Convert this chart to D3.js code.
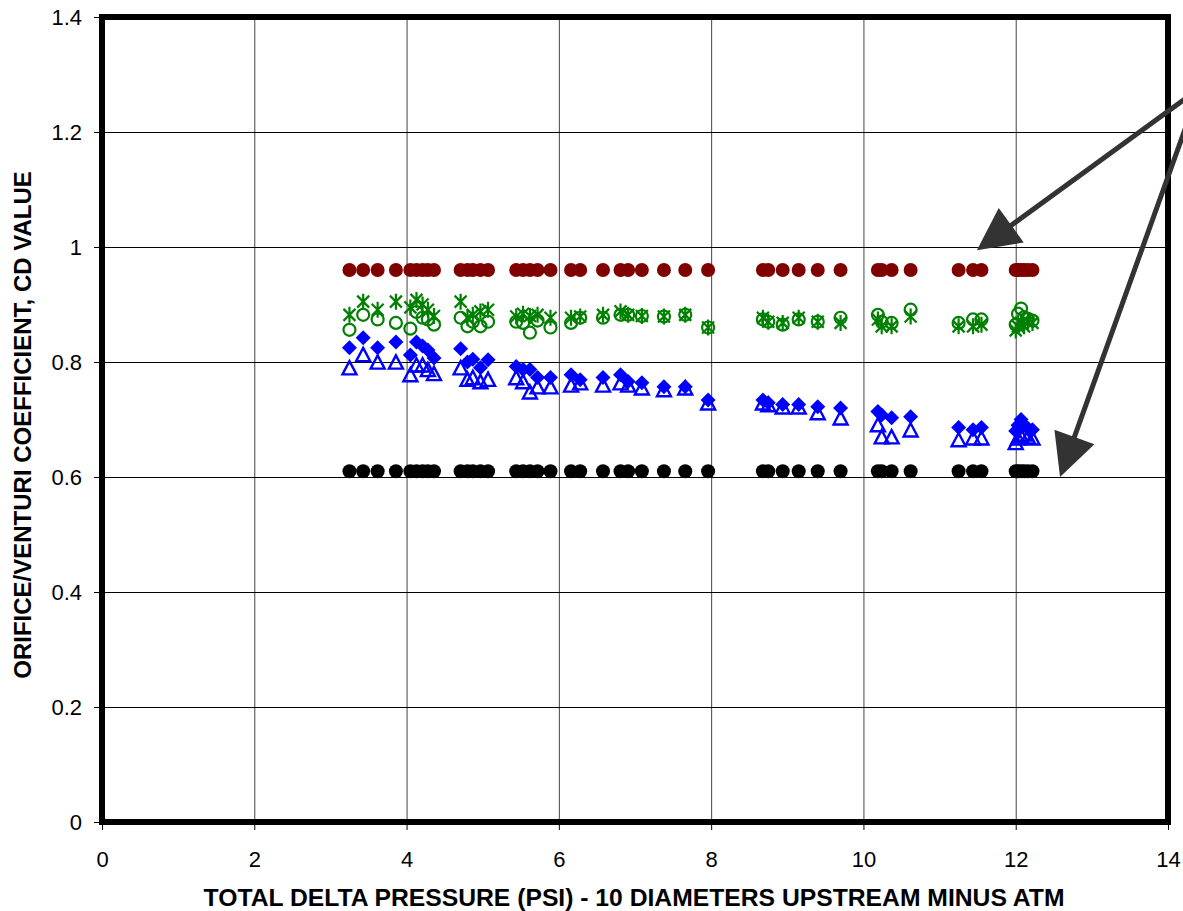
<!DOCTYPE html>
<html>
<head>
<meta charset="utf-8">
<script src="https://cdn.jsdelivr.net/npm/d3@7"></script>
<style>
  body { margin: 0; background: #fff; }
  svg { display: block; font-family: "Liberation Sans", Arial, sans-serif; }
</style>
</head>
<body>
<div id="chart"></div>
<script>
// ------------------------------------------------------------
// Orifice / venturi Cd vs total delta pressure
// ------------------------------------------------------------

// shared x column (psi)
const pressure = [
  3.25, 3.43, 3.62, 3.86, 4.05, 4.13, 4.21, 4.28, 4.36,
  4.71, 4.80, 4.87, 4.97, 5.07,
  5.44, 5.53, 5.62, 5.72, 5.89, 6.16, 6.28, 6.58, 6.81, 6.91, 7.09, 7.38, 7.66, 7.96,
  8.68, 8.75, 8.94, 9.15, 9.40, 9.70,
  10.19, 10.24, 10.37, 10.62,
  11.25, 11.44, 11.55,
  12.00, 12.03, 12.07, 12.11, 12.16, 12.22
];

const cdUpper = pressure.map(() => 0.96);   // dark red reference row
const cdLower = pressure.map(() => 0.61);   // black reference row

const cdCircle = [
  0.856, 0.882, 0.874, 0.868, 0.858, 0.887, 0.877, 0.874, 0.865,
  0.877, 0.862, 0.870, 0.862, 0.870,
  0.870, 0.868, 0.851, 0.872, 0.860, 0.868, 0.877, 0.877, 0.882, 0.882, 0.880, 0.879, 0.882, 0.860,
  0.874, 0.870, 0.865, 0.874, 0.870, 0.877,
  0.882, 0.870, 0.868, 0.891,
  0.868, 0.874, 0.874,
  0.865, 0.884, 0.893, 0.878, 0.875, 0.872
];

const cdStar = [
  0.882, 0.905, 0.891, 0.905, 0.895, 0.908, 0.900, 0.891, 0.880,
  0.905, 0.877, 0.882, 0.888, 0.891,
  0.879, 0.884, 0.880, 0.882, 0.877, 0.877, 0.879, 0.882, 0.888, 0.882, 0.880, 0.879, 0.882, 0.860,
  0.877, 0.870, 0.868, 0.877, 0.870, 0.868,
  0.874, 0.862, 0.862, 0.879,
  0.862, 0.862, 0.865,
  0.855, 0.862, 0.868, 0.862, 0.870, 0.868
];

const cdDiamond = [
  0.825, 0.842, 0.825, 0.835, 0.812, 0.835, 0.828, 0.821, 0.807,
  0.823, 0.800, 0.805, 0.790, 0.804,
  0.792, 0.787, 0.787, 0.773, 0.773, 0.778, 0.769, 0.773, 0.778, 0.766, 0.764, 0.757, 0.757, 0.734,
  0.734, 0.729, 0.726, 0.726, 0.722, 0.720,
  0.714, 0.708, 0.703, 0.705,
  0.686, 0.682, 0.686,
  0.680, 0.690, 0.700, 0.690, 0.685, 0.682
];

const cdTriangle = [
  0.790, 0.813, 0.800, 0.800, 0.778, 0.795, 0.795, 0.787, 0.780,
  0.790, 0.770, 0.773, 0.766, 0.770,
  0.773, 0.766, 0.748, 0.757, 0.757, 0.760, 0.764, 0.760, 0.764, 0.760, 0.755, 0.752, 0.755, 0.729,
  0.729, 0.726, 0.722, 0.722, 0.712, 0.703,
  0.691, 0.670, 0.670, 0.682,
  0.665, 0.668, 0.668,
  0.660, 0.668, 0.672, 0.675, 0.670, 0.668
];

const xTicks = [0, 2, 4, 6, 8, 10, 12, 14];
const yTicks = [0, 0.2, 0.4, 0.6, 0.8, 1, 1.2, 1.4];

const xTitle = "TOTAL DELTA PRESSURE (PSI) - 10 DIAMETERS UPSTREAM MINUS ATM";
const yTitle = "ORIFICE/VENTURI COEFFICIENT, CD VALUE";

// annotation arrows (data units, tails run off the page)
const arrows = [
  { from: [14.3, 1.265], to: [11.58, 1.003] },
  { from: [14.36, 1.255], to: [12.62, 0.614] }
];

// ------------------------------------------------------------
const width = 1183, height = 911;
const margin = { left: 102, right: 15, top: 17, bottom: 89 };

const svg = d3.select("#chart").append("svg")
  .attr("width", width)
  .attr("height", height);

const x = d3.scaleLinear().domain([0, 14]).range([margin.left, width - margin.right]);
const y = d3.scaleLinear().domain([0, 1.4]).range([height - margin.bottom, margin.top]);

const innerW = x(14) - x(0);
const innerH = y(0) - y(1.4);

// gridlines
svg.append("g")
  .attr("transform", `translate(0,${y(0)})`)
  .call(d3.axisBottom(x).tickValues(xTicks.slice(1, -1)).tickSize(-innerH).tickFormat(""))
  .call(g => g.select(".domain").remove())
  .call(g => g.selectAll("line").attr("stroke", "#444").attr("stroke-width", 1));

svg.append("g")
  .attr("transform", `translate(${x(0)},0)`)
  .call(d3.axisLeft(y).tickValues(yTicks.slice(1, -1)).tickSize(-innerW).tickFormat(""))
  .call(g => g.select(".domain").remove())
  .call(g => g.selectAll("line").attr("stroke", "#000").attr("stroke-width", 1));

// axes
const fmt = d3.format("~g");

svg.append("g")
  .attr("transform", `translate(0,${y(0)})`)
  .call(d3.axisBottom(x).tickValues(xTicks).tickSize(8).tickPadding(21).tickFormat(fmt))
  .call(g => g.select(".domain").remove())
  .call(g => g.selectAll("line").attr("stroke", "#000"))
  .call(g => g.selectAll("text").attr("font-size", 22).attr("fill", "#000")
    .attr("font-family", "Liberation Sans, Arial, sans-serif"));

svg.append("g")
  .attr("transform", `translate(${x(0)},0)`)
  .call(d3.axisLeft(y).tickValues(yTicks).tickSize(8).tickPadding(12).tickFormat(fmt))
  .call(g => g.select(".domain").remove())
  .call(g => g.selectAll("line").attr("stroke", "#000"))
  .call(g => g.selectAll("text").attr("font-size", 22).attr("fill", "#000")
    .attr("font-family", "Liberation Sans, Arial, sans-serif"));

// titles
svg.append("text")
  .attr("x", 634)
  .attr("y", 906)
  .attr("text-anchor", "middle")
  .attr("font-size", 24.7)
  .attr("font-weight", "bold")
  .text(xTitle);

svg.append("text")
  .attr("transform", `translate(31,425) rotate(-90)`)
  .attr("text-anchor", "middle")
  .attr("font-size", 24)
  .attr("font-weight", "bold")
  .text(yTitle);

// marker shapes
function diamondPath(s) {
  return `M0,${-s}L${s},0L0,${s}L${-s},0Z`;
}
function trianglePath(s) {
  const h = s * 0.95;
  return `M0,${-h}L${s},${h}L${-s},${h}Z`;
}
function starPath(s) {
  const d = s * 0.75;
  return `M${-d},${-d}L${d},${d}M${d},${-d}L${-d},${d}M0,${-s}L0,${s}`;
}

const plot = svg.append("g");

function drawSeries(vals, opts) {
  const pts = pressure.map((p, i) => [p, vals[i]]);
  if (opts.shape === "circle") {
    plot.append("g").selectAll("circle")
      .data(pts).enter().append("circle")
      .attr("cx", d => x(d[0]))
      .attr("cy", d => y(d[1]))
      .attr("r", opts.r)
      .attr("fill", opts.fill)
      .attr("stroke", opts.stroke)
      .attr("stroke-width", opts.sw || 0);
  } else {
    plot.append("g").selectAll("path")
      .data(pts).enter().append("path")
      .attr("transform", d => `translate(${x(d[0])},${y(d[1])})`)
      .attr("d", opts.path)
      .attr("fill", opts.fill)
      .attr("stroke", opts.stroke)
      .attr("stroke-width", opts.sw || 0);
  }
}

drawSeries(cdUpper, { shape: "circle", r: 7, fill: "#800000", stroke: "none" });
drawSeries(cdLower, { shape: "circle", r: 7, fill: "#000000", stroke: "none" });
drawSeries(cdCircle, { shape: "circle", r: 6, fill: "none", stroke: "#008000", sw: 2.2 });
drawSeries(cdStar, { shape: "path", path: starPath(8), fill: "none", stroke: "#008000", sw: 2.2 });
drawSeries(cdTriangle, { shape: "path", path: trianglePath(7), fill: "none", stroke: "#0000ff", sw: 2.4 });
drawSeries(cdDiamond, { shape: "path", path: diamondPath(7.5), fill: "#0000ff", stroke: "none" });

// plot frame
svg.append("rect")
  .attr("x", x(0))
  .attr("y", y(1.4))
  .attr("width", innerW)
  .attr("height", innerH)
  .attr("fill", "none")
  .attr("stroke", "#000")
  .attr("stroke-width", 6);

// arrows
const defs = svg.append("defs");
defs.append("marker")
  .attr("id", "head")
  .attr("viewBox", "0 0 10 10")
  .attr("refX", 8).attr("refY", 5)
  .attr("markerWidth", 9).attr("markerHeight", 8.5)
  .attr("markerUnits", "strokeWidth")
  .attr("orient", "auto")
  .append("path")
  .attr("d", "M0,0L10,5L0,10Z")
  .attr("fill", "#333");

svg.append("g").selectAll("line")
  .data(arrows).enter().append("line")
  .attr("x1", d => x(d.from[0]))
  .attr("y1", d => y(d.from[1]))
  .attr("x2", d => x(d.to[0]))
  .attr("y2", d => y(d.to[1]))
  .attr("stroke", "#333")
  .attr("stroke-width", 5)
  .attr("marker-end", "url(#head)");
</script>
</body>
</html>
